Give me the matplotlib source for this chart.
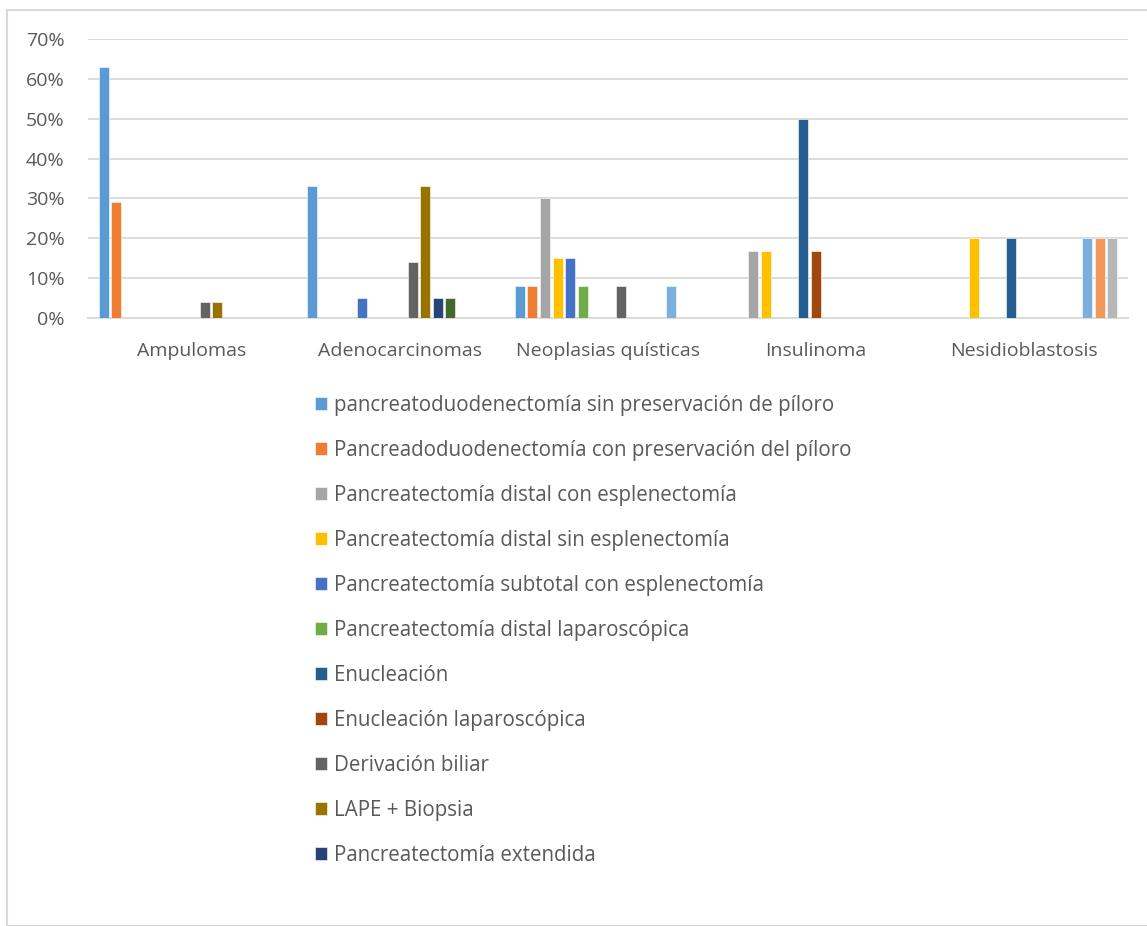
import numpy as np
from matplotlib import pyplot as plt
import matplotlib
from matplotlib.patches import Rectangle
matplotlib.rcParams['font.family'] = ['Open Sans', 'DejaVu Sans']

categorias = ['Ampulomas', 'Adenocarcinomas', 'Neoplasias quísticas', 'Insulinoma', 'Nesidioblastosis']

series = ['pancreatoduodenectomía sin preservación de píloro',
          'Pancreadoduodenectomía con preservación del píloro',
          'Pancreatectomía distal con esplenectomía',
          'Pancreatectomía distal sin esplenectomía',
          'Pancreatectomía subtotal con esplenectomía',
          'Pancreatectomía distal laparoscópica',
          'Enucleación',
          'Enucleación laparoscópica',
          'Derivación biliar',
          'LAPE + Biopsia',
          'Pancreatectomía extendida',
          'Serie 12', 'Serie 13', 'Serie 14', 'Serie 15']

# colores de Excel (accent 1-6, oscuros, claros)
colores = ['#5B9BD5', '#ED7D31', '#A5A5A5', '#FFC000', '#4472C4', '#70AD47',
           '#255E91', '#9E480E', '#636363', '#997300', '#264478', '#43682B',
           '#7CAFDD', '#F1975A', '#B7B7B7']

# valores en %, una lista por categoría (15 series)
ampulomas       = [63, 29, 0, 0, 0, 0, 0, 0, 4, 4, 0, 0, 0, 0, 0]
adenocarcinomas = [33, 0, 0, 0, 5, 0, 0, 0, 14, 33, 5, 5, 0, 0, 0]
neoplasias      = [8, 8, 30, 15, 15, 8, 0, 0, 8, 0, 0, 0, 8, 0, 0]
insulinoma      = [0, 0, 16.7, 16.7, 0, 0, 50, 16.7, 0, 0, 0, 0, 0, 0, 0]
nesidio         = [0, 0, 0, 20, 0, 0, 20, 0, 0, 0, 0, 0, 20, 20, 20]

datos = np.array([ampulomas, adenocarcinomas, neoplasias, insulinoma, nesidio]) / 100.0

W, H = 1147, 926
fig = plt.figure(figsize=(W/100, H/100), dpi=100)
gris = '#595959'
fs = 14

# borde del gráfico
fig.patches.append(Rectangle((7/W, 0), 1.2, 1 - 10/H, transform=fig.transFigure,
                             fill=False, edgecolor='#D9D9D9', lw=1.5))

ax = fig.add_axes([88/W, 1 - 318/H, (1128-88)/W, (318-39)/H])
n = len(series)
paso = 12.6/208
x = np.arange(len(categorias)) + 0.5
barras = []
for k in range(n):
    b = ax.bar(x + (k - 7)*paso, datos[:, k], width=paso*0.8, color=colores[k],
               edgecolor='white', linewidth=0.4, zorder=3, label=series[k])
    barras.append(b)

ax.set_xlim(0, 5)
ax.set_ylim(0, 0.7)
ax.set_yticks(np.arange(0, 0.71, 0.1))
ax.set_yticklabels(['%d%%' % round(v*100) for v in np.arange(0, 0.71, 0.1)])
ax.set_xticks(x)
ax.set_xticklabels(categorias)
ax.grid(axis='y', color='#D9D9D9', lw=1.3, zorder=0)
for s in ['top', 'right', 'left']:
    ax.spines[s].set_visible(False)
ax.spines['bottom'].set_color('#D9D9D9')
ax.spines['bottom'].set_linewidth(1.3)
ax.tick_params(axis='y', length=0, pad=17, labelsize=fs, labelcolor=gris)
ax.tick_params(axis='x', length=0, pad=17, labelsize=fs, labelcolor=gris)

leg = fig.legend(barras[:11], series[:11], loc='upper left',
                 bbox_to_anchor=(296/W, 1 - 376/H), frameon=False,
                 fontsize=14.8, labelcolor=gris, handlelength=0.6, handleheight=0.6,
                 handletextpad=0.35, labelspacing=1.17)

plt.savefig('out.png', dpi=100)
